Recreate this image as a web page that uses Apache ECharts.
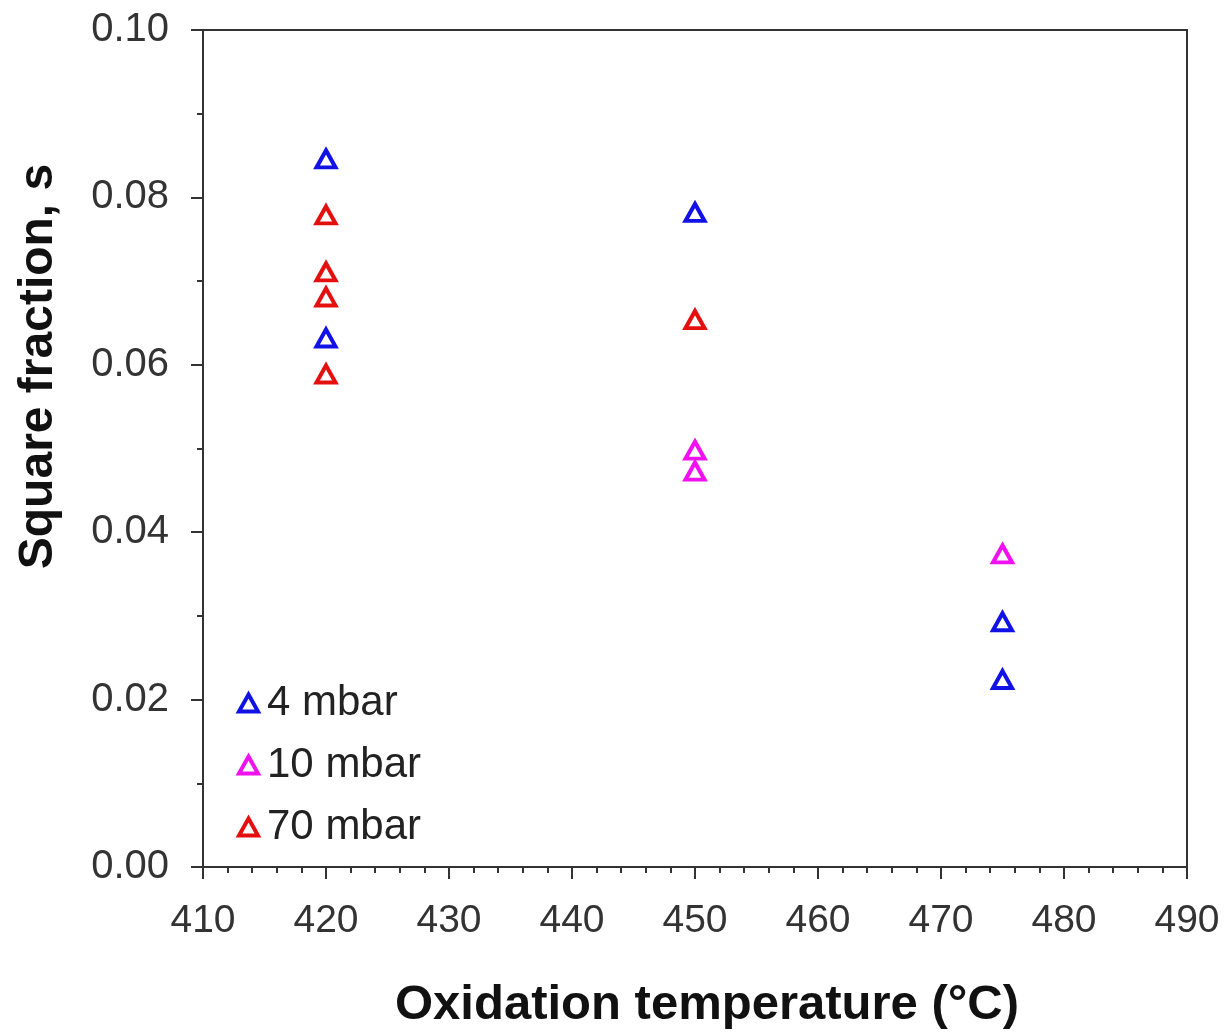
<!DOCTYPE html>
<html lang="en">
<head>
    <meta charset="UTF-8">
    <title>Square fraction vs oxidation temperature</title>
    <script type="text/javascript" src="https://cdn.jsdelivr.net/npm/echarts@6/dist/echarts.min.js"></script>
    <style>
        html, body { margin: 0; padding: 0; background: #fff; }
        #main { width: 1225px; height: 1035px; }
    </style>
</head>
<body>
<div id="main"></div>
<script type="text/javascript">

    // data: [temperature, square fraction]
    var mbar4 = [[420, 0.0846], [420, 0.0632], [450, 0.0782], [475, 0.0293], [475, 0.0224]];
    var mbar10 = [[450, 0.0498], [450, 0.0473], [475, 0.0374]];
    var mbar70 = [[420, 0.0779], [420, 0.0711], [420, 0.0681], [420, 0.0589], [450, 0.0654]];

    var seriesNames = ['4 mbar', '10 mbar', '70 mbar'];
    var seriesColors = ['#1212e6', '#f010f0', '#e41010'];
    var seriesData = [mbar4, mbar10, mbar70];

    var font = '"Liberation Sans", Arial, sans-serif';

    var series = [];
    for (let i = 0; i < seriesNames.length; i++) {
        series.push({
            name: seriesNames[i],
            type: 'scatter',
            symbol: 'triangle',
            symbolSize: [19, 17],
            itemStyle: {
                color: '#fff',
                borderColor: seriesColors[i],
                borderWidth: 4,
                opacity: 1
            },
            data: seriesData[i]
        });
    }

    var myChart = echarts.init(document.getElementById('main'));
    var option = {
        backgroundColor: '#fff',
        animation: false,
        grid: {
            left: 203,
            right: 38,
            top: 30,
            bottom: 162,
            show: true,
            borderColor: '#333',
            borderWidth: 2
        },
        legend: {
            orient: 'vertical',
            left: 232,
            top: 677,
            itemWidth: 19,
            itemHeight: 17,
            itemGap: 20,
            itemStyle: { borderWidth: 4 },
            textStyle: {
                fontFamily: font,
                fontSize: 42,
                color: '#222',
                padding: [0, 0, 0, 4]
            },
            data: seriesNames
        },
        xAxis: {
            type: 'value',
            min: 410,
            max: 490,
            interval: 10,
            name: 'Oxidation temperature (°C)',
            nameLocation: 'middle',
            nameGap: 114,
            nameTextStyle: {
                fontFamily: font,
                fontSize: 49,
                fontWeight: 'bold',
                color: '#111',
                padding: [0, 0, 0, 24]
            },
            axisLine: { show: true, lineStyle: { color: '#333', width: 2 } },
            axisTick: { show: true, inside: false, length: 12, lineStyle: { color: '#333', width: 2 } },
            minorTick: { show: true, splitNumber: 5, length: 6, lineStyle: { color: '#333', width: 2 } },
            axisLabel: {
                fontFamily: font,
                fontSize: 39,
                color: '#333',
                margin: 35
            },
            splitLine: { show: false }
        },
        yAxis: {
            type: 'value',
            min: 0,
            max: 0.1,
            interval: 0.02,
            name: 'Square fraction, s',
            nameLocation: 'middle',
            nameGap: 140,
            nameTextStyle: {
                fontFamily: font,
                fontSize: 48,
                fontWeight: 'bold',
                color: '#111',
                padding: [0, 0, 0, 164]
            },
            axisLine: { show: true, lineStyle: { color: '#333', width: 2 } },
            axisTick: { show: true, inside: false, length: 12, lineStyle: { color: '#333', width: 2 } },
            minorTick: { show: true, splitNumber: 2, length: 6, lineStyle: { color: '#333', width: 2 } },
            axisLabel: {
                fontFamily: font,
                fontSize: 40,
                color: '#333',
                margin: 34,
                formatter: function (v) { return v.toFixed(2); }
            },
            splitLine: { show: false }
        },
        series: series
    };
    myChart.setOption(option);

</script>
</body>
</html>
